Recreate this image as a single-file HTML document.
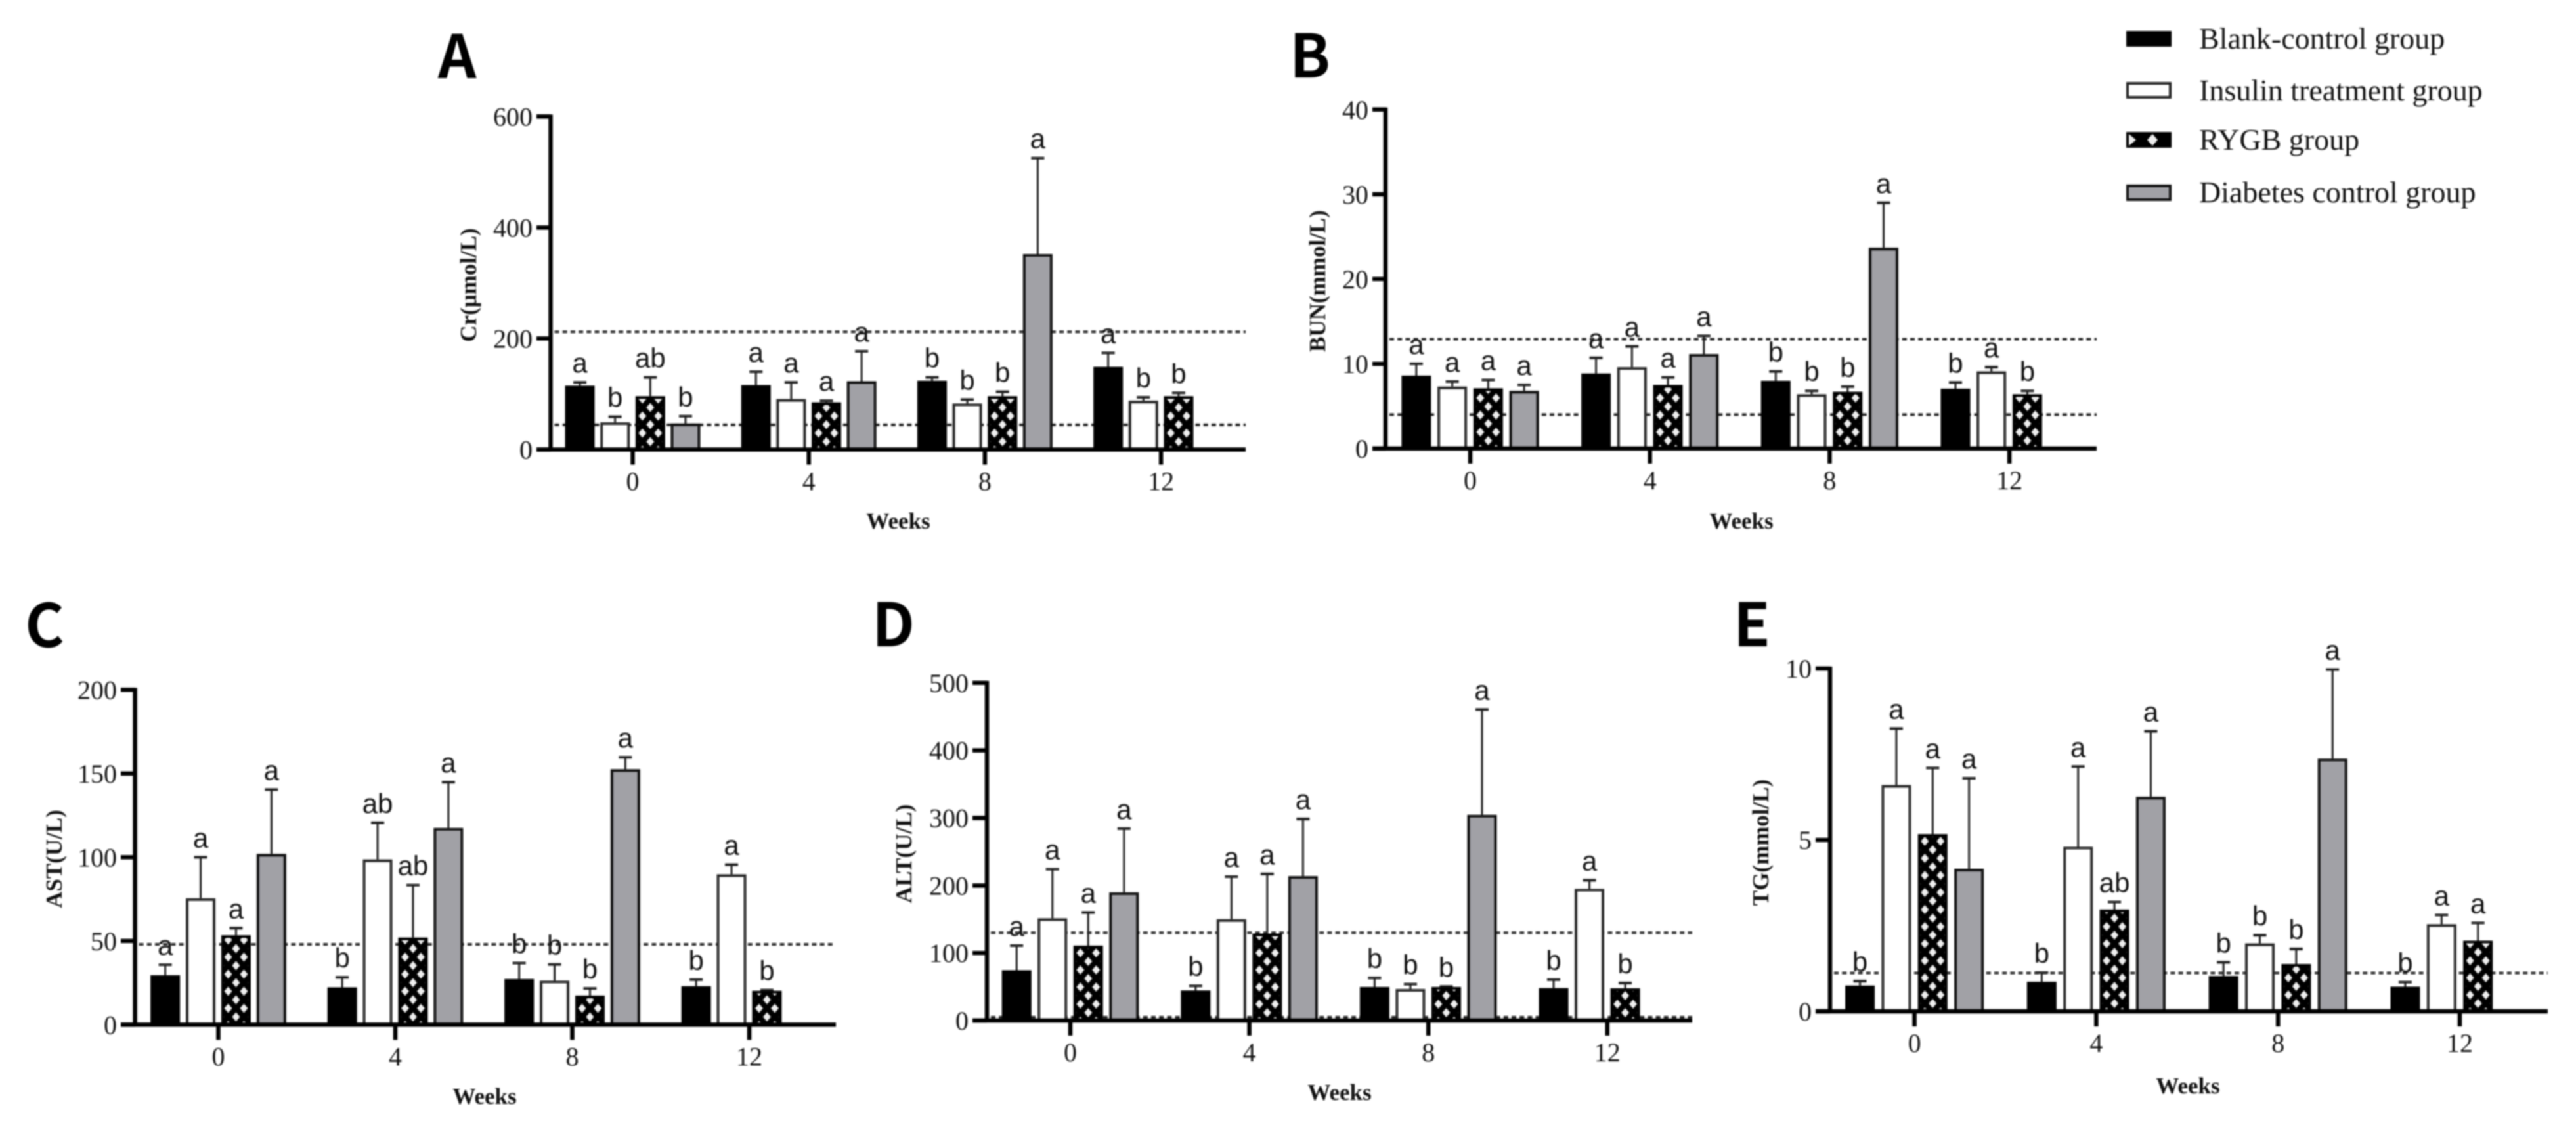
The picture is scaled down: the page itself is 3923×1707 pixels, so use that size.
<!DOCTYPE html>
<html lang="en">
<head>
<meta charset="utf-8">
<title>Serum biochemistry by week and treatment group</title>
<style>
  html, body { margin: 0; padding: 0; background: #fff; }
  body { width: 3923px; height: 1707px; overflow: hidden; }
  svg { display: block; position: absolute; left: 0; top: 0; filter: blur(1.1px); }
  .serif { font-family: "Liberation Serif", serif; fill: #111; }
  .sans { font-family: "Liberation Sans", sans-serif; fill: #111; }
  .tick { font-size: 40px; }
  .title { font-size: 35px; font-weight: 700; }
  .legend { font-size: 46px; }
  .sig { font-size: 42px; }
  .panel { font-family: "Noto Sans CJK JP", "Liberation Sans", sans-serif; font-weight: 700; font-size: 91px; fill: #000; }
</style>
</head>
<body>
<svg id="fig" xmlns="http://www.w3.org/2000/svg" width="3923" height="1707" viewBox="0 0 3923 1707">
  <defs>
    <pattern id="hatch" patternUnits="userSpaceOnUse" width="24" height="26" patternTransform="translate(0,-12)">
      <rect width="24" height="26" fill="#000"/>
      <polygon points="12,6 18,13 12,20 6,13" fill="#eee"/>
      <polygon points="0,-7 6,0 0,7 -6,0" fill="#eee"/>
      <polygon points="24,-7 30,0 24,7 18,0" fill="#eee"/>
      <polygon points="0,19 6,26 0,33 -6,26" fill="#eee"/>
      <polygon points="24,19 30,26 24,33 18,26" fill="#eee"/>
    </pattern>
  </defs>

  <text class="panel" x="667" y="119">A</text>
  <text class="panel" x="1964" y="118">B</text>
  <text class="panel" x="38" y="985">C</text>
  <text class="panel" x="1328" y="984">D</text>
  <text class="panel" x="2640" y="984">E</text>

  <text class="serif title" transform="translate(725,434) rotate(-90)" text-anchor="middle">Cr(μmol/L)</text>
  <text class="serif title" transform="translate(2018,428) rotate(-90)" text-anchor="middle">BUN(mmol/L)</text>
  <text class="serif title" transform="translate(94,1308) rotate(-90)" text-anchor="middle">AST(U/L)</text>
  <text class="serif title" transform="translate(1388,1300) rotate(-90)" text-anchor="middle">ALT(U/L)</text>
  <text class="serif title" transform="translate(2693,1283) rotate(-90)" text-anchor="middle">TG(mmol/L)</text>

  <text class="serif title" x="1368" y="805" text-anchor="middle">Weeks</text>
  <text class="serif title" x="2652" y="805" text-anchor="middle">Weeks</text>
  <text class="serif title" x="738" y="1681" text-anchor="middle">Weeks</text>
  <text class="serif title" x="2040" y="1675" text-anchor="middle">Weeks</text>
  <text class="serif title" x="3332" y="1665" text-anchor="middle">Weeks</text>

  <g>
    <g>
      <rect x="3238" y="47" width="69" height="24" fill="#000"/>
      <text class="serif legend" x="3349" y="74">Blank-control group</text>
    </g>
    <g>
      <rect x="3240" y="127" width="65" height="21" fill="#fff" stroke="#222" stroke-width="4"/>
      <text class="serif legend" x="3349" y="153">Insulin treatment group</text>
    </g>
    <g>
      <rect x="3238" y="201" width="69" height="24" fill="#000"/>
      <polygon points="3278,204 3286,213 3278,222 3270,213" fill="#eee"/>
      <polygon points="3242,204 3253,213 3242,222" fill="#eee"/>
      <text class="serif legend" x="3349" y="228">RYGB group</text>
    </g>
    <g>
      <rect x="3240" y="283" width="65" height="21" fill="#a1a1a6" stroke="#111" stroke-width="4"/>
      <text class="serif legend" x="3349" y="308">Diabetes control group</text>
    </g>
  </g>
</svg>

<script>
// Shared categories and group names
const categories = ['0', '4', '8', '12'];
const seriesNames = ['blank-control', 'insulin', 'rygb', 'diabetes-control'];

// Panel A: creatinine
const crMeans = [[115, 49, 96, 47], [116, 91, 85, 123], [124, 83, 96, 352], [149, 88, 96]];
const crErrors = [[6, 10, 34, 13], [24, 30, 3, 54], [6, 7, 8, 173], [25, 6, 6]];
const crLetters = [['a', 'b', 'ab', 'b'], ['a', 'a', 'a', 'a'], ['b', 'b', 'b', 'a'], ['a', 'b', 'b']];
const crTicks = [0, 200, 400, 600];
const crRefs = [212, 44.5];

// Panel B: blood urea nitrogen
const bunMeans = [[8.6, 7.3, 7.1, 6.8], [8.85, 9.6, 7.5, 11.15], [8, 6.4, 6.7, 23.7], [7.05, 9.1, 6.4]];
const bunErrors = [[1.4, 0.6, 1, 0.7], [1.85, 2.45, 0.9, 2.15], [1.1, 0.4, 0.6, 5.3], [0.75, 0.5, 0.4]];
const bunLetters = [['a', 'a', 'a', 'a'], ['a', 'a', 'a', 'a'], ['b', 'b', 'b', 'a'], ['b', 'a', 'b']];
const bunTicks = [0, 10, 20, 30, 40];
const bunRefs = [12.9, 4];

// Panel C: AST
const astMeans = [[29.6, 75.5, 53.4, 102], [22.3, 98.7, 52, 117.5], [27.3, 26.3, 17.4, 152.6], [23, 89.8, 20.3]];
const astErrors = [[6.2, 24.5, 4.3, 38.4], [6, 21.9, 31.4, 27.3], [9.5, 9.7, 4.3, 7.1], [3.9, 5.8, 0.4]];
const astLetters = [['a', 'a', 'a', 'a'], ['b', 'ab', 'ab', 'a'], ['b', 'b', 'b', 'a'], ['b', 'a', 'b']];
const astTicks = [0, 50, 100, 150, 200];
const astRefs = [48];

// Panel D: ALT
const altMeans = [[74.4, 151.3, 110.8, 189.7], [44.6, 150, 128.7, 213.8], [49.7, 46.7, 49.7, 304.6], [48, 195, 47.7]];
const altErrors = [[36.4, 72.7, 49.2, 94.3], [6.7, 63, 88.3, 84.7], [13.3, 7.1, 0.6, 155.9], [12.5, 12.7, 7.7]];
const altLetters = [['a', 'a', 'a', 'a'], ['b', 'a', 'a', 'a'], ['b', 'b', 'b', 'a'], ['b', 'a', 'b']];
const altTicks = [0, 100, 200, 300, 400, 500];
const altRefs = [130, 5];

// Panel E: triglycerides
const tgMeans = [[0.75, 6.6, 5.17, 4.16], [0.86, 4.8, 2.97, 6.26], [1.03, 1.98, 1.38, 7.37], [0.72, 2.54, 2.06]];
const tgErrors = [[0.13, 1.65, 1.93, 2.64], [0.27, 2.34, 0.22, 1.91], [0.4, 0.24, 0.44, 2.6], [0.13, 0.27, 0.52]];
const tgLetters = [['b', 'a', 'a', 'a'], ['b', 'a', 'ab', 'a'], ['b', 'b', 'b', 'a'], ['b', 'a', 'a']];
const tgTicks = [0, 5, 10];
const tgRefs = [1.12];

const SVG_NS = 'http://www.w3.org/2000/svg';
const fig = document.getElementById('fig');

function make(parent, tag, attrs, text) {
  const el = document.createElementNS(SVG_NS, tag);
  for (const k in attrs) el.setAttribute(k, attrs[k]);
  if (text !== undefined) el.textContent = text;
  parent.appendChild(el);
  return el;
}

const barFills = ['#000', '#fff', 'url(#hatch)', '#a1a1a6'];
const barStrokes = ['#000', '#2a2a2a', '#000', '#111'];

function drawPanel(p) {
  const yScale = v => p.yZero - v * (p.yZero - p.yTop) / p.yMax;
  const xScale = i => p.xFirst + i * p.xStep;
  const barStep = p.xStep / 5;
  const barWidth = 45;

  const g = make(fig, 'g', {});
  
  

  // reference range lines sit behind the bars
  p.refs.forEach(r => {
    const line = make(g, 'line', {
      x1: p.axisX + 6, x2: p.axisRight, y1: yScale(r), y2: yScale(r),
      stroke: '#2a2a2a', 'stroke-width': 4, 'stroke-dasharray': '7 5.2'
    });
    
    
  });

  // bars, error bars and significance letters
  p.means.forEach((group, i) => {
    group.forEach((mean, j) => {
      const cx = xScale(i) + (j - 1.5) * barStep;
      const top = yScale(mean);
      const height = p.yZero - top;

      const whiskerTop = yScale(mean + p.errors[i][j]);
      const stem = make(g, 'line', {
        x1: cx, x2: cx, y1: top, y2: whiskerTop, stroke: '#222', 'stroke-width': 3
      });
      
      

      const cap = make(g, 'line', {
        x1: cx - 10, x2: cx + 10, y1: whiskerTop, y2: whiskerTop, stroke: '#222', 'stroke-width': 4
      });
      
      

      // local origin at the bar foot keeps the diamond hatch aligned per bar
      const holder = make(g, 'g', { transform: 'translate(' + cx + ',' + p.yZero + ')' });
      
      

      const bar = make(holder, 'rect', {
        x: -barWidth / 2 + 2, y: -height + 2, width: barWidth - 4, height: Math.max(height - 2, 0),
        fill: barFills[j], stroke: barStrokes[j], 'stroke-width': 4
      });
      
      

      const letter = make(g, 'text', {
        class: 'sans sig', x: cx, y: whiskerTop - 15, 'text-anchor': 'middle'
      }, p.letters[i][j]);
      
      
    });
  });

  // axes
  const yAxis = make(g, 'line', {
    x1: p.axisX, x2: p.axisX, y1: p.yTop - 3, y2: p.yZero + 3, stroke: '#000', 'stroke-width': 6.5
  });
  
  

  const xAxis = make(g, 'line', {
    x1: p.axisLeft, x2: p.axisRight, y1: p.yZero, y2: p.yZero, stroke: '#000', 'stroke-width': 6.5
  });
  
  

  p.yTicks.forEach(v => {
    const mark = make(g, 'line', {
      x1: p.axisLeft, x2: p.axisX, y1: yScale(v), y2: yScale(v), stroke: '#000', 'stroke-width': 6.5
    });
    
    

    const label = make(g, 'text', {
      class: 'serif tick', x: p.axisLeft - 6, y: yScale(v) + 14, 'text-anchor': 'end'
    }, String(v));
    
    
  });

  categories.forEach((c, i) => {
    const mark = make(g, 'line', {
      x1: xScale(i), x2: xScale(i), y1: p.yZero, y2: p.yZero + 23, stroke: '#000', 'stroke-width': 6.5
    });
    
    

    const label = make(g, 'text', {
      class: 'serif tick', x: xScale(i), y: p.yZero + 62, 'text-anchor': 'middle'
    }, c);
    
    
  });
}

drawPanel({ id: 'cr', yMax: 600, yTop: 177.3, yZero: 684.5, axisX: 838.5, axisLeft: 817, axisRight: 1897,
  xFirst: 963.5, xStep: 268.2, means: crMeans, errors: crErrors, letters: crLetters, yTicks: crTicks, refs: crRefs });
drawPanel({ id: 'bun', yMax: 40, yTop: 166.8, yZero: 683, axisX: 2110, axisLeft: 2090, axisRight: 3193,
  xFirst: 2239, xStep: 273.7, means: bunMeans, errors: bunErrors, letters: bunLetters, yTicks: bunTicks, refs: bunRefs });
drawPanel({ id: 'ast', yMax: 200, yTop: 1050.4, yZero: 1560.4, axisX: 205.6, axisLeft: 184, axisRight: 1273,
  xFirst: 332.5, xStep: 269.5, means: astMeans, errors: astErrors, letters: astLetters, yTicks: astTicks, refs: astRefs });
drawPanel({ id: 'alt', yMax: 500, yTop: 1039.8, yZero: 1554, axisX: 1503, axisLeft: 1481, axisRight: 2577,
  xFirst: 1630, xStep: 272.6, means: altMeans, errors: altErrors, letters: altLetters, yTicks: altTicks, refs: altRefs });
drawPanel({ id: 'tg', yMax: 10, yTop: 1018, yZero: 1540, axisX: 2787, axisLeft: 2765, axisRight: 3880,
  xFirst: 2915.6, xStep: 276.8, means: tgMeans, errors: tgErrors, letters: tgLetters, yTicks: tgTicks, refs: tgRefs });
</script>
</body>
</html>
